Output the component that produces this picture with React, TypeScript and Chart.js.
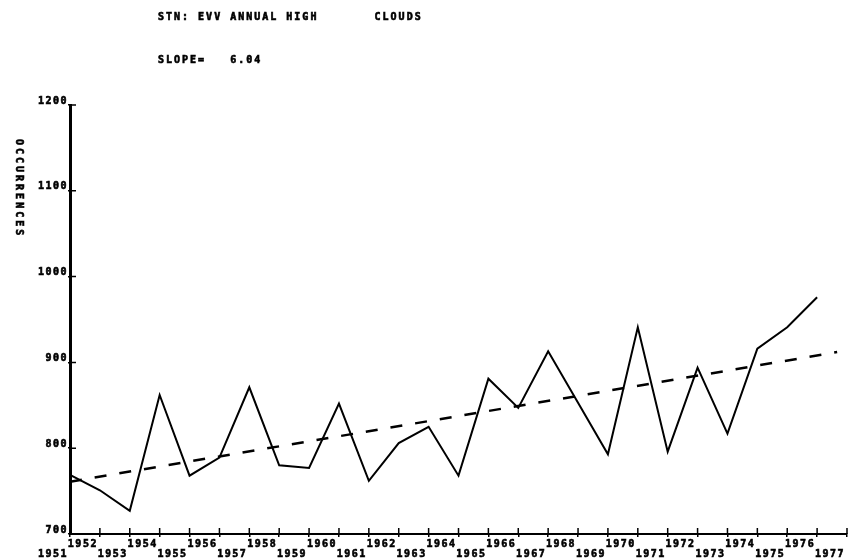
import React, { useEffect, useRef } from "react";
import { Chart, registerables } from "chart.js";

Chart.register(...registerables);

const YEARS = [
  1951, 1952, 1953, 1954, 1955, 1956, 1957, 1958, 1959, 1960, 1961, 1962, 1963,
  1964, 1965, 1966, 1967, 1968, 1969, 1970, 1971, 1972, 1973, 1974, 1975, 1976,
];
const OCCURRENCES = [
  769, 751, 727, 862, 768, 789, 871, 780, 777, 852, 762, 806, 825,
  768, 881, 847, 913, 853, 793, 941, 796, 894, 817, 916, 941, 976,
];
const TREND_YEARS = [1951, 1976.67];
const TREND_VALUES = [761, 912];
const X_TICK_YEARS = [
  1951, 1952, 1953, 1954, 1955, 1956, 1957, 1958, 1959, 1960, 1961, 1962, 1963,
  1964, 1965, 1966, 1967, 1968, 1969, 1970, 1971, 1972, 1973, 1974, 1975, 1976, 1977,
];
const Y_TICKS = [700, 800, 900, 1000, 1100, 1200];
const TITLE = "STN: EVV ANNUAL HIGH       CLOUDS";
const SUBTITLE = "SLOPE=   6.04";
const Y_TITLE = "OCCURRENCES";

const FONT_FAMILY = '"DejaVu Sans Mono", monospace';

const decor = {
  id: "decor",
  beforeDraw(chart: any) {
    chart.ctx.letterSpacing = "1.5px";
  },
  afterDraw(chart: any) {
    const ctx = chart.ctx;
    ctx.save();
    ctx.fillStyle = "#000";
    ctx.strokeStyle = "#000";
    ctx.lineWidth = 0.6;
    ctx.font = `bold 10px ${FONT_FAMILY}`;
    ctx.letterSpacing = "2px";
    ctx.textBaseline = "middle";
    ctx.textAlign = "left";
    ctx.fillText(TITLE, 158, 17);
    ctx.strokeText(TITLE, 158, 17);
    ctx.fillText(SUBTITLE, 158, 60);
    ctx.strokeText(SUBTITLE, 158, 60);
    ctx.translate(19, 139);
    ctx.rotate(Math.PI / 2);
    ctx.letterSpacing = "3px";
    ctx.fillText(Y_TITLE, 0, 0);
    ctx.strokeText(Y_TITLE, 0, 0);
    ctx.restore();

    const xs = chart.scales.x;
    const ys = chart.scales.y;
    ctx.save();
    ctx.strokeStyle = "#000";
    ctx.lineWidth = 1.5;
    ctx.beginPath();
    xs.ticks.forEach((t: any) => {
      const px = xs.getPixelForValue(t.value);
      ctx.moveTo(px, ys.bottom);
      ctx.lineTo(px, ys.bottom - 6);
    });
    ys.ticks.forEach((t: any) => {
      const py = ys.getPixelForValue(t.value);
      ctx.moveTo(xs.left, py);
      ctx.lineTo(xs.left + 6, py);
    });
    ctx.stroke();
    ctx.restore();
    ctx.letterSpacing = "0px";
  },
};

export default function App() {
  const ref = useRef<HTMLCanvasElement | null>(null);

  useEffect(() => {
    if (!ref.current) return;
    const tickFont = { family: FONT_FAMILY, weight: "bold" as const, size: 10, lineHeight: 1.0 };
    const chart = new Chart(ref.current, {
      type: "line",
      data: {
        datasets: [
          {
            label: "Occurrences",
            data: YEARS.map((yr, i) => ({ x: yr, y: OCCURRENCES[i] })),
            borderColor: "#000",
            borderWidth: 2,
            pointRadius: 0,
            tension: 0,
            fill: false,
          },
          {
            label: "Trend",
            data: TREND_YEARS.map((yr, i) => ({ x: yr, y: TREND_VALUES[i] })),
            borderColor: "#000",
            borderWidth: 2.5,
            borderDash: [12, 13],
            pointRadius: 0,
            tension: 0,
            fill: false,
          },
        ],
      },
      options: {
        responsive: false,
        animation: false,
        devicePixelRatio: 1,
        layout: { padding: { top: 105, right: 3, bottom: 0, left: 0 } },
        plugins: { legend: { display: false }, tooltip: { enabled: false }, title: { display: false } },
        scales: {
          x: {
            type: "linear",
            min: 1951,
            max: 1977,
            afterBuildTicks: (s: any) => {
              s.ticks = X_TICK_YEARS.map((v) => ({ value: v }));
            },
            afterFit: (s: any) => {
              s.height = 26;
              s.paddingLeft = 0;
              s.paddingRight = 0;
            },
            ticks: {
              autoSkip: false,
              maxRotation: 0,
              minRotation: 0,
              labelOffset: -17,
              padding: 2,
              color: "#000",
              textStrokeColor: "#000",
              textStrokeWidth: 0.6,
              font: tickFont,
              callback: (v: any) => (Number(v) % 2 === 1 ? ["", String(v)] : [String(v), ""]),
            },
            grid: { drawOnChartArea: false, drawTicks: true, tickLength: 3, color: "#000", lineWidth: 1.5 },
            border: { display: true, color: "#000", width: 2 },
          },
          y: {
            type: "linear",
            min: 700,
            max: 1200,
            afterBuildTicks: (s: any) => {
              s.ticks = Y_TICKS.map((v) => ({ value: v }));
            },
            afterFit: (s: any) => {
              s.width = 70;
              s.paddingTop = 0;
              s.paddingBottom = 0;
            },
            ticks: {
              labelOffset: -4,
              padding: 0,
              color: "#000",
              textStrokeColor: "#000",
              textStrokeWidth: 0.6,
              font: tickFont,
              callback: (v: any) => String(v),
            },
            grid: { drawOnChartArea: false, drawTicks: true, tickLength: 2, color: "#000", lineWidth: 1.5 },
            border: { display: true, color: "#000", width: 3 },
          },
        },
      },
      plugins: [decor],
    });
    return () => chart.destroy();
  }, []);

  return (
    <div style={{ position: "fixed", left: 0, top: 0, width: 850, height: 560, background: "#fff" }}>
      <canvas ref={ref} width={850} height={560} style={{ display: "block" }} />
    </div>
  );
}
